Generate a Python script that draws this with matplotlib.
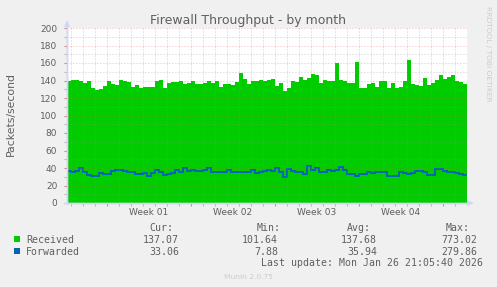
import numpy as np
import matplotlib
matplotlib.use("Agg")
import matplotlib.pyplot as plt
from matplotlib.patches import Rectangle
from matplotlib.ticker import MultipleLocator, FixedLocator, NullFormatter

# Munin "month" graph: one sample every 8 hours (1/3 day)
STEP_DAYS = 1 / 3

received = [
    139, 141, 141, 140, 137, 140, 131, 129, 130, 134,
    139, 136, 135, 141, 139, 138, 133, 135, 131, 133,
    133, 133, 140, 141, 131, 137, 138, 138, 139, 136,
    137, 140, 136, 136, 137, 139, 137, 140, 133, 136,
    136, 135, 138, 149, 142, 136, 139, 139, 141, 140,
    141, 142, 134, 137, 128, 131, 139, 138, 144, 141,
    143, 147, 146, 137, 141, 140, 139, 160, 141, 140,
    137, 137, 161, 131, 132, 136, 137, 133, 140, 140,
    131, 137, 132, 133, 140, 163, 136, 135, 134, 143,
    135, 137, 141, 146, 142, 144, 146, 139, 138, 136,
]

forwarded = [
    37, 36, 37, 40, 35, 32, 31, 31, 34, 33,
    33, 37, 38, 38, 37, 36, 35, 33, 33, 34,
    31, 34, 38, 35, 32, 33, 34, 38, 35, 40,
    37, 38, 37, 37, 38, 40, 36, 35, 36, 35,
    38, 36, 35, 35, 36, 35, 38, 34, 35, 37,
    38, 37, 40, 35, 30, 39, 37, 35, 35, 33,
    42, 38, 40, 35, 36, 38, 37, 38, 41, 38,
    33, 33, 31, 33, 33, 36, 34, 35, 35, 35,
    31, 31, 31, 35, 34, 33, 34, 37, 37, 36,
    32, 32, 39, 39, 37, 35, 35, 34, 33, 32,
]

week_labels = ["Week 01", "Week 02", "Week 03", "Week 04"]
first_week_start = 10 / 3  # days from the left edge

legend_rows = [
    ("Received", "#00CC00", "137.07", "101.64", "137.68", "773.02"),
    ("Forwarded", "#0066B3", "33.06", "7.88", "35.94", "279.86"),
]
last_update = "Last update: Mon Jan 26 21:05:40 2026"

W, H = 497, 287
FONT = "#5f5f5f"
AXIS = "#CFD6F8"
MGRID = (0.87, 0.32, 0.32, 0.4)
GRID = (0.56, 0.56, 0.56, 0.45)

fig = plt.figure(figsize=(W / 100, H / 100), dpi=100, facecolor="#F0F0F0")


def fx(x):
    return x / W


def fy(y):
    return 1 - y / H


ax = fig.add_axes([fx(67), fy(203), 400 / W, 175 / H])
ax.set_facecolor("white")

n = len(received)
edges = np.arange(n + 1) * STEP_DAYS
ax.stairs(received, edges, fill=True, color="#00CC00", lw=0, zorder=2)
ax.stairs(forwarded, edges, color="#0066B3", lw=1.4, zorder=3, baseline=None)

ax.set_xlim(0, edges[-1])
ax.set_ylim(0, 200)

# grid (dotted, drawn over the data like rrdtool)
dot = (0, (1, 2))
for v in np.arange(10, 200, 20):
    ax.axhline(v, color=GRID, lw=0.72, ls=dot, zorder=4)
for v in np.arange(20, 201, 20):
    ax.axhline(v, color=MGRID, lw=0.72, ls=dot, zorder=4)
day_lines = np.arange(first_week_start - 3, edges[-1], 1.0)
week_lines = np.arange(first_week_start, edges[-1], 7.0)
for d in day_lines:
    if np.min(np.abs(week_lines - d)) > 0.01:
        ax.axvline(d, color=GRID, lw=0.72, ls=dot, zorder=4)
for d in week_lines:
    ax.axvline(d, color=MGRID, lw=0.72, ls=dot, zorder=4)

# axes / ticks
for s in ["top", "right"]:
    ax.spines[s].set_visible(False)
for s in ["left", "bottom"]:
    ax.spines[s].set_color(AXIS)
    ax.spines[s].set_linewidth(1)
    ax.spines[s].set_zorder(5)

ax.yaxis.set_major_locator(MultipleLocator(20))
ax.yaxis.set_minor_locator(MultipleLocator(10))
ax.tick_params(axis="y", which="major", length=2, width=0.8, color="#E08080",
               labelsize=6.5, labelcolor=FONT, pad=5)
ax.tick_params(axis="y", which="minor", length=2, width=0.8, color="#BBBBBB")

ax.xaxis.set_major_locator(FixedLocator(week_lines))
ax.xaxis.set_major_formatter(NullFormatter())
ax.xaxis.set_minor_locator(FixedLocator(day_lines))
ax.tick_params(axis="x", which="major", length=2, width=0.8, color="#E08080")
ax.tick_params(axis="x", which="minor", length=2, width=0.8, color="#BBBBBB")

# week labels sit in the middle of each week
label_y = 1 - (215 - 28) / 175  # axes fraction for pixel row 215
for start, lab in zip(week_lines, week_labels):
    ax.text(start + 3.5, label_y, lab, transform=ax.get_xaxis_transform(),
            ha="center", va="baseline", fontsize=6.5, color=FONT, clip_on=False)

# axis extensions and arrows
fig.add_artist(plt.Line2D([fx(67), fx(67)], [fy(203), fy(24)], color=AXIS, lw=1))
fig.add_artist(plt.Line2D([fx(64), fx(470)], [fy(203), fy(203)], color=AXIS, lw=1))
fig.add_artist(plt.Polygon([[fx(64), fy(27)], [fx(70), fy(27)], [fx(67), fy(20)]],
                           closed=True, color=AXIS, lw=0))
fig.add_artist(plt.Polygon([[fx(467), fy(200)], [fx(467), fy(206)], [fx(474), fy(203)]],
                           closed=True, color=AXIS, lw=0))

# texts
fig.text(fx(248), fy(24), "Firewall Throughput - by month", ha="center",
         va="baseline", fontsize=9, color=FONT)
fig.text(fx(11), fy(114.5), "Packets/second", rotation=90, ha="center",
         va="center", fontsize=7.8, color=FONT)
fig.text(fx(488), fy(53.5), "RRDTOOL / TOBI OETIKER", rotation=270, ha="center",
         va="center", fontsize=5.4, color="#CCCCCC")

mono = "DejaVu Sans Mono"
lfs = 7.1
hdr_y = 231
for label, x_right in [("Cur:", 173), ("Min:", 281), ("Avg:", 371), ("Max:", 470)]:
    fig.text(fx(x_right), fy(hdr_y), label, ha="right", va="baseline",
             family=mono, fontsize=lfs, color=FONT)

col_right = [179, 278, 377, 477]
for r, (name, col, cur, mn, avg, mx) in enumerate(legend_rows):
    base = 243 + 12 * r
    fig.patches.append(Rectangle((fx(14), fy(base - 1)), 6 / W, 6 / H,
                                 transform=fig.transFigure, color=col, lw=0))
    fig.text(fx(26), fy(base), name, ha="left", va="baseline",
             family=mono, fontsize=lfs, color=FONT)
    for v, xr in zip([cur, mn, avg, mx], col_right):
        fig.text(fx(xr), fy(base), v, ha="right", va="baseline",
                 family=mono, fontsize=lfs, color=FONT)

fig.text(fx(483), fy(266), last_update, ha="right", va="baseline",
         family=mono, fontsize=lfs, color=FONT)
fig.text(fx(248), fy(279), "Munin 2.0.75", ha="center", va="baseline",
         fontsize=5.4, color="#CCCCCC")

fig.savefig("out.png", dpi=100, facecolor=fig.get_facecolor())
